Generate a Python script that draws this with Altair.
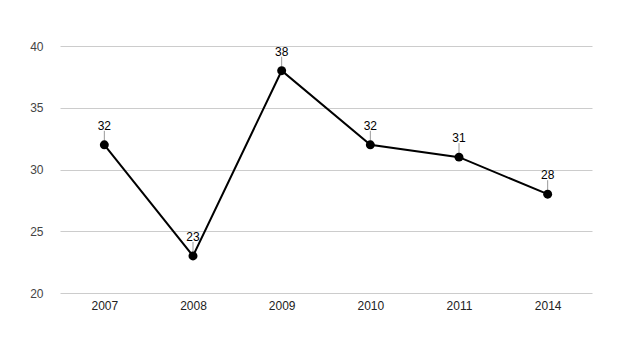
import altair as alt
import pandas as pd

years = ["2007", "2008", "2009", "2010", "2011", "2014"]
values = [32, 23, 38, 32, 31, 28]

df = pd.DataFrame({"year": years, "value": values})

FONT = "Liberation Sans"

xscale = alt.Scale(type="point", padding=0.5)
x = alt.X("year:O", sort=years, title=None, scale=xscale,
          axis=alt.Axis(labelAngle=0, labelColor="#222222", labelFontSize=12,
                        labelFont=FONT, ticks=False, domain=False, labelPadding=7,
                        grid=False))
y = alt.Y("value:Q", title=None,
          scale=alt.Scale(domain=[20, 40], nice=False, zero=False),
          axis=alt.Axis(values=[20, 25, 30, 35, 40], labelColor="#444444",
                        labelFontSize=12, labelFont=FONT, ticks=False, domain=False,
                        gridColor="#cccccc", labelPadding=17))

xs = alt.X("year:O", sort=years, scale=xscale)

base = alt.Chart(df)

line = base.mark_line(color="black", strokeWidth=2).encode(x=x, y=y)
stems = base.mark_rule(color="#999999", strokeWidth=1, yOffset=-14, y2Offset=-4).encode(
    x=xs, y="value:Q", y2="value:Q")
pts = base.mark_point(filled=True, color="black", size=80, opacity=1).encode(
    x=xs, y="value:Q")
labels = base.mark_text(color="black", fontSize=12, font=FONT, dy=-15,
                        baseline="alphabetic", align="center").encode(
    x=xs, y="value:Q", text="value:Q")

chart = alt.layer(line, stems, pts, labels).properties(
    width=532, height=247,
    padding={"left": 52, "top": 38, "right": 10, "bottom": 40},
    autosize=alt.AutoSizeParams(type="none"),
    background="white",
).configure_view(strokeWidth=0, stroke=None)

chart.save("out.html", embed_options={"renderer": "svg", "actions": False})
